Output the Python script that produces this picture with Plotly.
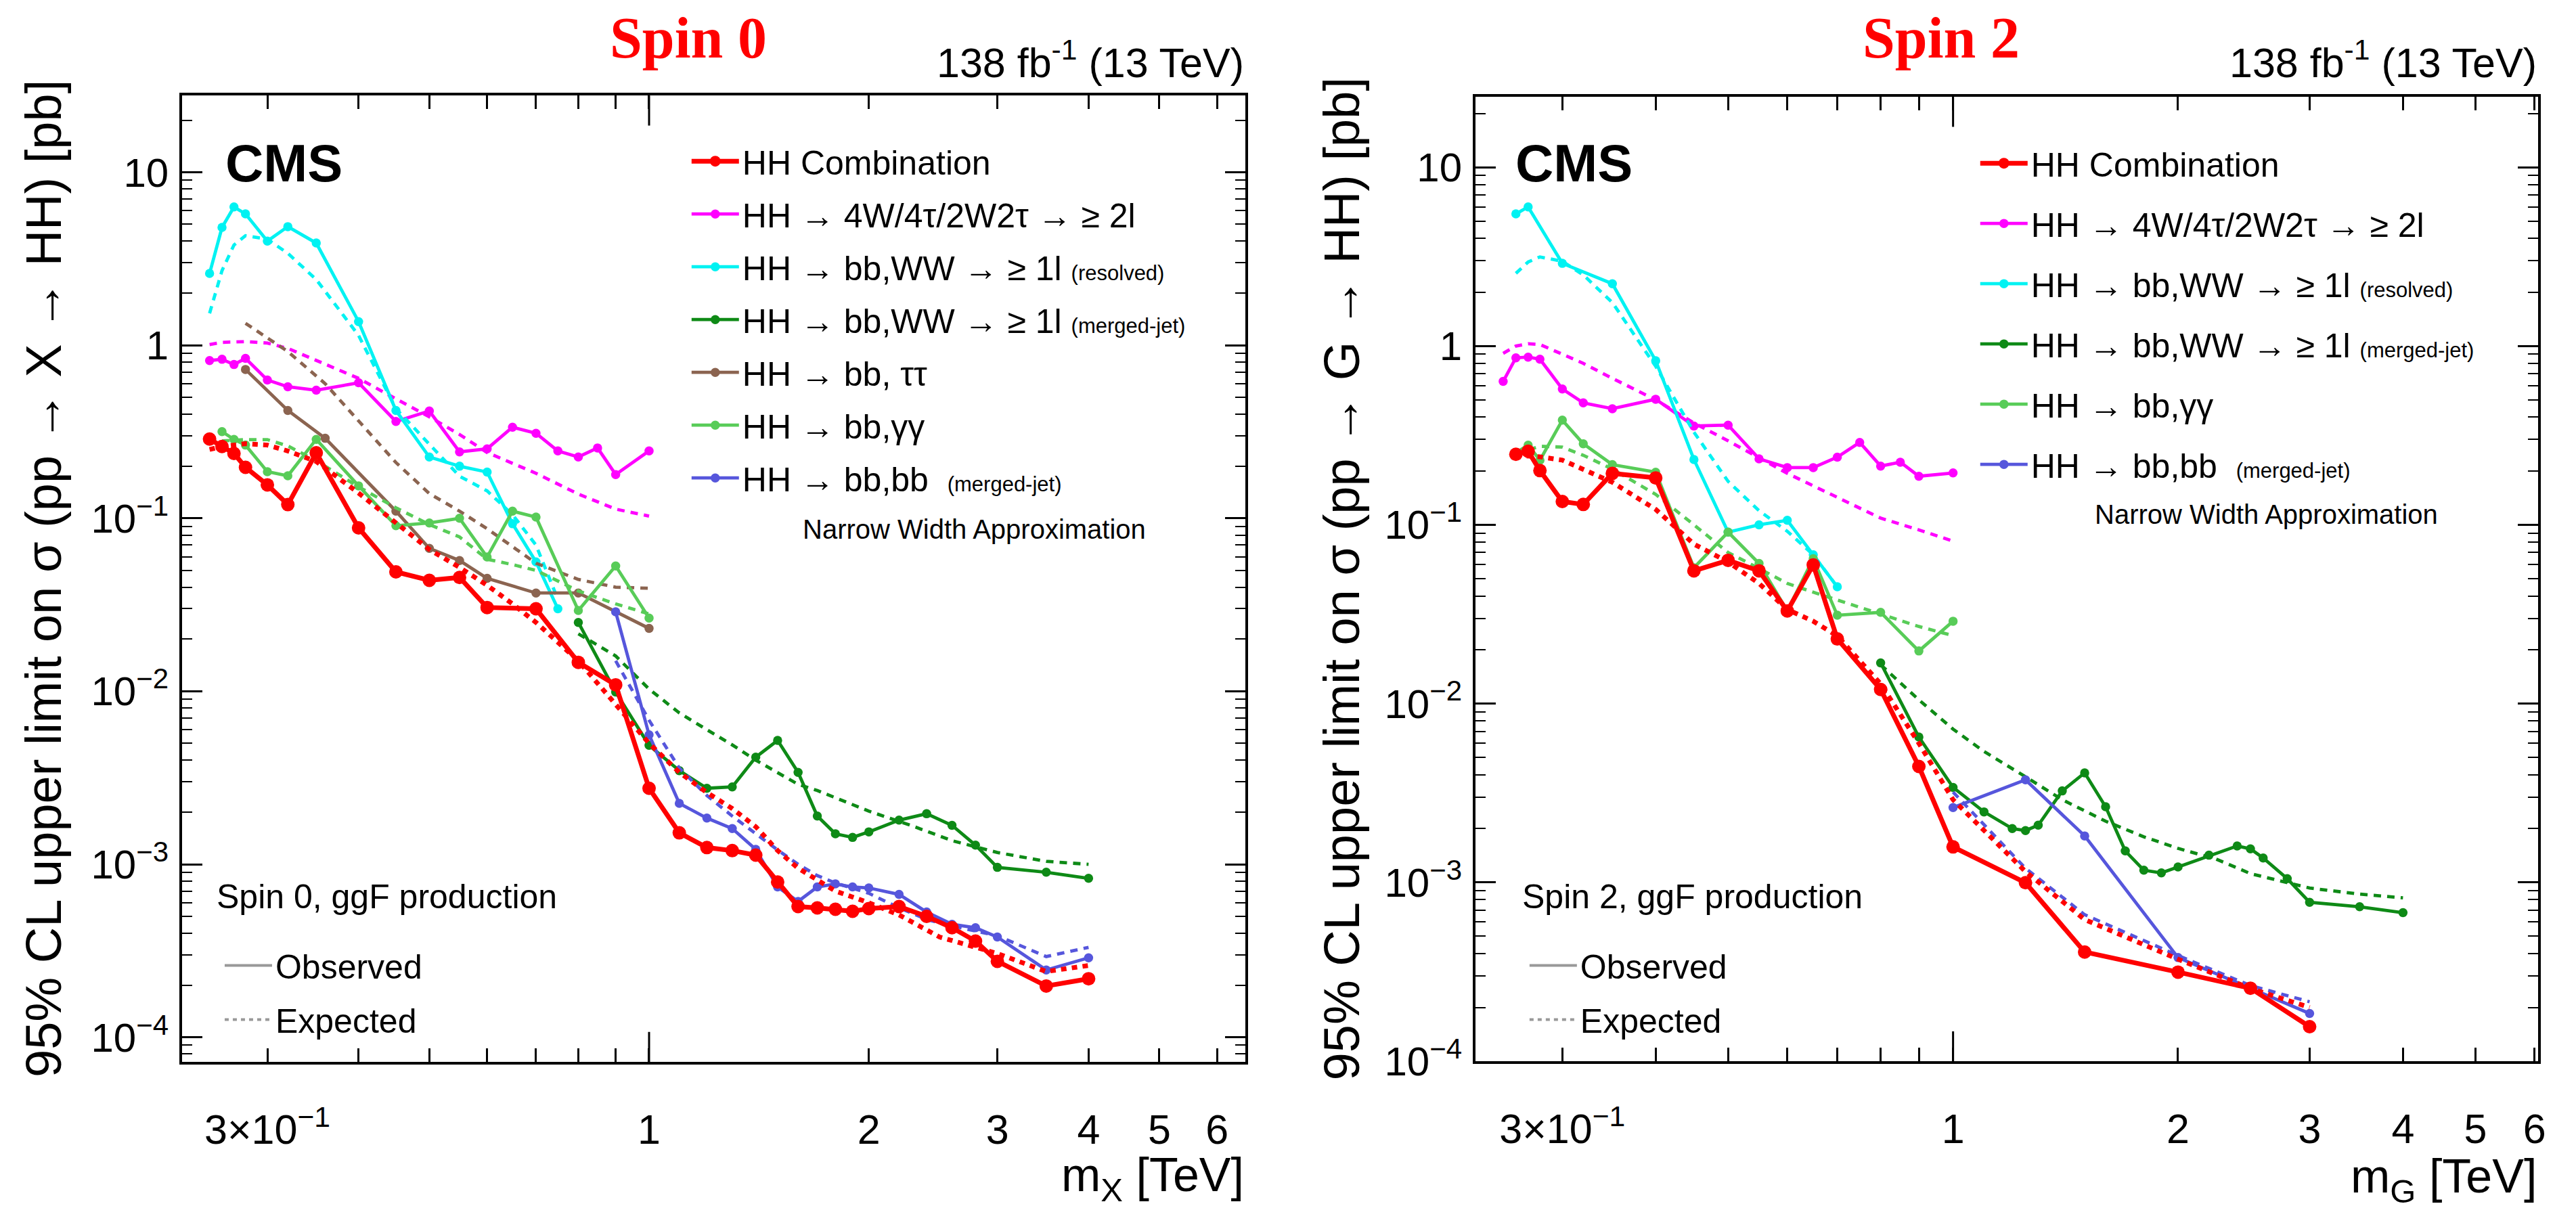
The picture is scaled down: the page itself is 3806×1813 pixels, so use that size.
import plotly.graph_objects as go

W, H = 3806, 1813
FONT = "Liberation Sans, Arial, Helvetica, sans-serif"

# ---------------- Spin 0 (left) ----------------
s0_comb_obs_m = [0.25, 0.26, 0.27, 0.28, 0.30, 0.32, 0.35, 0.40, 0.45, 0.50, 0.55, 0.60, 0.70, 0.80, 0.90, 1.0, 1.1, 1.2, 1.3, 1.4, 1.5, 1.6, 1.7, 1.8, 1.9, 2.0, 2.2, 2.4, 2.6, 2.8, 3.0, 3.5, 4.0]
s0_comb_obs = [0.287, 0.26, 0.237, 0.197, 0.156, 0.12, 0.239, 0.088, 0.049, 0.0438, 0.0455, 0.0305, 0.030, 0.0147, 0.0109, 0.00275, 0.00152, 0.00125, 0.0012, 0.00113, 7.9e-4, 5.7e-4, 5.6e-4, 5.5e-4, 5.35e-4, 5.55e-4, 5.7e-4, 5.0e-4, 4.3e-4, 3.6e-4, 2.75e-4, 1.98e-4, 2.18e-4]
s0_comb_exp_m = [0.25, 0.26, 0.28, 0.30, 0.32, 0.35, 0.40, 0.45, 0.50, 0.55, 0.60, 0.65, 0.70, 0.80, 0.90, 1.0, 1.1, 1.2, 1.3, 1.4, 1.5, 1.6, 1.8, 2.0, 2.2, 2.5, 3.0, 3.5, 4.0]
s0_comb_exp = [0.25, 0.26, 0.27, 0.265, 0.245, 0.213, 0.14, 0.095, 0.066, 0.052, 0.041, 0.032, 0.025, 0.015, 0.0085, 0.005, 0.0034, 0.0026, 0.0021, 0.00165, 0.0012, 9.5e-4, 7.0e-4, 6.0e-4, 5.1e-4, 3.8e-4, 3.05e-4, 2.4e-4, 2.6e-4]

s0_ml_obs_m = [0.25, 0.26, 0.27, 0.28, 0.30, 0.32, 0.35, 0.40, 0.45, 0.50, 0.55, 0.60, 0.65, 0.70, 0.75, 0.80, 0.85, 0.90, 1.0]
s0_ml_obs = [0.816, 0.83, 0.774, 0.84, 0.63, 0.576, 0.55, 0.607, 0.363, 0.417, 0.242, 0.252, 0.336, 0.31, 0.245, 0.226, 0.255, 0.179, 0.245]
s0_ml_exp_m = [0.25, 0.26, 0.28, 0.30, 0.32, 0.35, 0.40, 0.45, 0.50, 0.55, 0.60, 0.70, 0.80, 0.90, 1.0]
s0_ml_exp = [1.01, 1.04, 1.05, 1.03, 0.96, 0.82, 0.644, 0.49, 0.386, 0.305, 0.24, 0.182, 0.138, 0.113, 0.103]

s0_res_obs_m = [0.25, 0.26, 0.27, 0.28, 0.30, 0.32, 0.35, 0.40, 0.45, 0.50, 0.55, 0.60, 0.65, 0.70, 0.75]
s0_res_obs = [2.6, 4.8, 6.3, 5.75, 4.0, 4.85, 3.9, 1.37, 0.42, 0.226, 0.20, 0.185, 0.093, 0.056, 0.030]
s0_res_exp_m = [0.25, 0.26, 0.27, 0.28, 0.30, 0.32, 0.35, 0.40, 0.45, 0.50, 0.55, 0.60, 0.65, 0.70, 0.75]
s0_res_exp = [1.53, 2.7, 3.8, 4.3, 4.1, 3.4, 2.4, 1.14, 0.43, 0.27, 0.175, 0.144, 0.105, 0.07, 0.034]

s0_mj_obs_m = [0.8, 0.9, 1.0, 1.1, 1.2, 1.3, 1.4, 1.5, 1.6, 1.7, 1.8, 1.9, 2.0, 2.2, 2.4, 2.6, 2.8, 3.0, 3.5, 4.0]
s0_mj_obs = [0.025, 0.0099, 0.00487, 0.00348, 0.00275, 0.0028, 0.00416, 0.0052, 0.0034, 0.0019, 0.0015, 0.00143, 0.00154, 0.0018, 0.00196, 0.00168, 0.00129, 9.6e-4, 9.0e-4, 8.3e-4]
s0_mj_exp_m = [0.8, 0.9, 1.0, 1.1, 1.2, 1.3, 1.4, 1.5, 1.6, 1.7, 2.0, 2.3, 2.6, 3.0, 3.5, 4.0]
s0_mj_exp = [0.0215, 0.016, 0.0103, 0.0075, 0.006, 0.0049, 0.004, 0.0034, 0.0029, 0.00267, 0.00203, 0.00166, 0.00137, 0.00117, 0.00104, 0.001]

s0_tt_obs_m = [0.28, 0.32, 0.36, 0.45, 0.50, 0.55, 0.60, 0.70, 0.80, 1.0]
s0_tt_obs = [0.725, 0.42, 0.29, 0.11, 0.067, 0.057, 0.045, 0.037, 0.037, 0.0231]
s0_tt_exp_m = [0.28, 0.32, 0.36, 0.45, 0.50, 0.55, 0.60, 0.70, 0.80, 0.90, 1.0]
s0_tt_exp = [1.34, 0.92, 0.6, 0.21, 0.139, 0.11, 0.087, 0.055, 0.0443, 0.040, 0.0394]

s0_gg_obs_m = [0.26, 0.27, 0.28, 0.30, 0.32, 0.35, 0.40, 0.45, 0.50, 0.55, 0.60, 0.65, 0.70, 0.80, 0.90, 1.0]
s0_gg_obs = [0.317, 0.286, 0.265, 0.186, 0.176, 0.286, 0.154, 0.0906, 0.094, 0.10, 0.0597, 0.11, 0.1016, 0.0293, 0.053, 0.0265]
s0_gg_exp_m = [0.26, 0.28, 0.30, 0.32, 0.35, 0.40, 0.45, 0.50, 0.55, 0.60, 0.65, 0.70, 0.80, 0.90, 1.0]
s0_gg_exp = [0.28, 0.285, 0.285, 0.262, 0.215, 0.152, 0.115, 0.092, 0.078, 0.058, 0.054, 0.05, 0.038, 0.032, 0.028]

s0_bb_obs_m = [0.9, 1.0, 1.1, 1.2, 1.3, 1.4, 1.5, 1.6, 1.7, 1.8, 1.9, 2.0, 2.2, 2.4, 2.6, 2.8, 3.0, 3.5, 4.0]
s0_bb_obs = [0.0288, 0.0056, 0.00225, 0.00185, 0.00161, 0.00122, 7.4e-4, 6.1e-4, 7.4e-4, 7.7e-4, 7.4e-4, 7.3e-4, 6.7e-4, 5.3e-4, 4.5e-4, 4.3e-4, 3.8e-4, 2.45e-4, 2.88e-4]
s0_bb_exp_m = [0.9, 1.0, 1.1, 1.2, 1.3, 1.4, 1.5, 1.6, 1.7, 1.8, 2.0, 2.2, 2.4, 2.6, 2.8, 3.0, 3.5, 4.0]
s0_bb_exp = [0.015, 0.0068, 0.0036, 0.0025, 0.0019, 0.0015, 0.00121, 0.001, 8.6e-4, 7.8e-4, 6.8e-4, 5.6e-4, 4.8e-4, 4.4e-4, 4.1e-4, 3.86e-4, 2.93e-4, 3.31e-4]

# ---------------- Spin 2 (right) ----------------
s2_comb_obs_m = [0.26, 0.27, 0.28, 0.30, 0.32, 0.35, 0.40, 0.45, 0.50, 0.55, 0.60, 0.65, 0.70, 0.80, 0.90, 1.0, 1.25, 1.5, 2.0, 2.5, 3.0]
s2_comb_obs = [0.248, 0.258, 0.201, 0.135, 0.13, 0.194, 0.183, 0.0553, 0.0633, 0.0553, 0.033, 0.0597, 0.023, 0.012, 0.00445, 0.00158, 9.96e-4, 4.08e-4, 3.15e-4, 2.56e-4, 1.56e-4]
s2_comb_exp_m = [0.26, 0.28, 0.30, 0.32, 0.35, 0.40, 0.45, 0.50, 0.55, 0.60, 0.65, 0.70, 0.80, 0.90, 1.0, 1.25, 1.5, 2.0, 2.5, 3.0]
s2_comb_exp = [0.245, 0.24, 0.23, 0.205, 0.173, 0.122, 0.078, 0.062, 0.047, 0.0336, 0.0289, 0.0239, 0.0129, 0.006, 0.0029, 0.00115, 6.2e-4, 3.72e-4, 2.55e-4, 2.0e-4]

s2_ml_obs_m = [0.25, 0.26, 0.27, 0.28, 0.30, 0.32, 0.35, 0.40, 0.45, 0.50, 0.55, 0.60, 0.65, 0.70, 0.75, 0.80, 0.85, 0.90, 1.0]
s2_ml_obs = [0.634, 0.859, 0.867, 0.844, 0.575, 0.481, 0.446, 0.504, 0.357, 0.361, 0.234, 0.209, 0.209, 0.239, 0.289, 0.213, 0.224, 0.187, 0.195]
s2_ml_exp_m = [0.25, 0.26, 0.27, 0.28, 0.30, 0.32, 0.35, 0.40, 0.45, 0.50, 0.60, 0.70, 0.80, 0.90, 1.0]
s2_ml_exp = [0.91, 1.0, 1.03, 1.02, 0.9, 0.8, 0.66, 0.5, 0.371, 0.295, 0.194, 0.143, 0.109, 0.0937, 0.081]

s2_res_obs_m = [0.26, 0.27, 0.30, 0.35, 0.40, 0.45, 0.50, 0.55, 0.60, 0.65, 0.70]
s2_res_obs = [5.48, 6.0, 2.9, 2.23, 0.828, 0.232, 0.091, 0.100, 0.106, 0.068, 0.045]
s2_res_exp_m = [0.26, 0.27, 0.28, 0.30, 0.32, 0.35, 0.40, 0.45, 0.50, 0.55, 0.60, 0.65, 0.70]
s2_res_exp = [2.55, 2.95, 3.15, 2.98, 2.5, 1.75, 0.77, 0.33, 0.175, 0.12, 0.092, 0.068, 0.045]

s2_mj_obs_m = [0.8, 0.9, 1.0, 1.1, 1.2, 1.25, 1.3, 1.4, 1.5, 1.6, 1.7, 1.8, 1.9, 2.0, 2.2, 2.4, 2.5, 2.6, 2.8, 3.0, 3.5, 4.0]
s2_mj_obs = [0.0169, 0.0065, 0.0034, 0.00248, 0.002, 0.00195, 0.00209, 0.00325, 0.0041, 0.00265, 0.0015, 0.00117, 0.00113, 0.00122, 0.00142, 0.0016, 0.00154, 0.00137, 0.00105, 7.74e-4, 7.31e-4, 6.77e-4]
s2_mj_exp_m = [0.8, 0.9, 1.0, 1.1, 1.25, 1.4, 1.6, 1.8, 2.0, 2.25, 2.5, 3.0, 3.5, 4.0]
s2_mj_exp = [0.0165, 0.0105, 0.0072, 0.0054, 0.0039, 0.0029, 0.0022, 0.0018, 0.00155, 0.00135, 0.00112, 9.3e-4, 8.6e-4, 8.2e-4]

s2_gg_obs_m = [0.26, 0.27, 0.28, 0.30, 0.32, 0.35, 0.40, 0.45, 0.50, 0.55, 0.60, 0.65, 0.70, 0.80, 0.90, 1.0]
s2_gg_obs = [0.253, 0.279, 0.23, 0.385, 0.284, 0.217, 0.197, 0.0575, 0.091, 0.0608, 0.033, 0.0646, 0.0312, 0.0324, 0.0197, 0.0289]
s2_gg_exp_m = [0.26, 0.28, 0.30, 0.32, 0.35, 0.40, 0.45, 0.50, 0.55, 0.60, 0.65, 0.70, 0.80, 0.90, 1.0]
s2_gg_exp = [0.25, 0.275, 0.272, 0.245, 0.205, 0.148, 0.1, 0.07, 0.057, 0.047, 0.042, 0.038, 0.032, 0.027, 0.024]

s2_bb_obs_m = [1.0, 1.25, 1.5, 2.0, 2.5, 3.0]
s2_bb_obs = [0.00262, 0.00375, 0.00182, 3.8e-4, 2.56e-4, 1.85e-4]
s2_bb_exp_m = [1.0, 1.25, 1.5, 2.0, 2.5, 3.0]
s2_bb_exp = [0.0032, 0.0012, 6.6e-4, 3.9e-4, 2.65e-4, 2.15e-4]

# ---------------- tick labels ----------------
x_tickvals = [0.3, 1, 2, 3, 4, 5, 6]
x_ticktext = ["3×10<sup>−1</sup>", "1", "2", "3", "4", "5", "6"]
x_minorvals = [0.4, 0.5, 0.6, 0.7, 0.8, 0.9]
y_tickvals = [1e-4, 1e-3, 1e-2, 1e-1, 1, 10]
y_ticktext = ["10<sup>−4</sup>", "10<sup>−3</sup>", "10<sup>−2</sup>", "10<sup>−1</sup>", "1", "10"]
y_minorvals = [k * 10.0 ** e for e in range(-5, 2) for k in range(2, 10)]

# ---------------- labels ----------------
SMALL = '<span style="font-size:31px">%s</span>'
lab_comb = "HH Combination"
lab_ml = "HH → 4W/4τ/2W2τ → ≥ 2l"
lab_res = "HH → bb,WW → ≥ 1l " + SMALL % "(resolved)"
lab_mj = "HH → bb,WW → ≥ 1l " + SMALL % "(merged-jet)"
lab_tt = "HH → bb, ττ"
lab_gg = "HH → bb,γγ"
lab_bb = "HH → bb,bb  " + SMALL % "(merged-jet)"

C_RED = "#ff0000"
C_MAG = "#ff00ff"
C_CYAN = "#00f2f2"
C_DGREEN = "#0e8a16"
C_BROWN = "#8b6450"
C_LGREEN = "#58cc58"
C_BLUE = "#5656dc"

fig = go.Figure()


def add_series(mo, vo, me, ve, color, name, rank, xa, ya, leg, big=False):
    lw = 7 if big else 4.8
    ms = 20 if big else 13.5
    dash = "8px,8px" if big else "11px,9px"
    fig.add_trace(go.Scatter(x=me, y=ve, mode="lines", xaxis=xa, yaxis=ya,
                             line=dict(color=color, width=lw, dash=dash),
                             showlegend=False, hoverinfo="skip"))
    fig.add_trace(go.Scatter(x=mo, y=vo, mode="lines+markers", xaxis=xa, yaxis=ya,
                             line=dict(color=color, width=lw),
                             marker=dict(color=color, size=ms, symbol="circle"),
                             name=name, legend=leg, legendrank=rank,
                             legendgroup=leg + name))


# left panel
add_series(s0_ml_obs_m, s0_ml_obs, s0_ml_exp_m, s0_ml_exp, C_MAG, lab_ml, 2, "x", "y", "legend")
add_series(s0_res_obs_m, s0_res_obs, s0_res_exp_m, s0_res_exp, C_CYAN, lab_res, 3, "x", "y", "legend")
add_series(s0_tt_obs_m, s0_tt_obs, s0_tt_exp_m, s0_tt_exp, C_BROWN, lab_tt, 5, "x", "y", "legend")
add_series(s0_gg_obs_m, s0_gg_obs, s0_gg_exp_m, s0_gg_exp, C_LGREEN, lab_gg, 6, "x", "y", "legend")
add_series(s0_mj_obs_m, s0_mj_obs, s0_mj_exp_m, s0_mj_exp, C_DGREEN, lab_mj, 4, "x", "y", "legend")
add_series(s0_bb_obs_m, s0_bb_obs, s0_bb_exp_m, s0_bb_exp, C_BLUE, lab_bb, 7, "x", "y", "legend")
add_series(s0_comb_obs_m, s0_comb_obs, s0_comb_exp_m, s0_comb_exp, C_RED, lab_comb, 1, "x", "y", "legend", big=True)

# right panel
add_series(s2_ml_obs_m, s2_ml_obs, s2_ml_exp_m, s2_ml_exp, C_MAG, lab_ml, 2, "x2", "y2", "legend2")
add_series(s2_res_obs_m, s2_res_obs, s2_res_exp_m, s2_res_exp, C_CYAN, lab_res, 3, "x2", "y2", "legend2")
add_series(s2_gg_obs_m, s2_gg_obs, s2_gg_exp_m, s2_gg_exp, C_LGREEN, lab_gg, 5, "x2", "y2", "legend2")
add_series(s2_mj_obs_m, s2_mj_obs, s2_mj_exp_m, s2_mj_exp, C_DGREEN, lab_mj, 4, "x2", "y2", "legend2")
add_series(s2_bb_obs_m, s2_bb_obs, s2_bb_exp_m, s2_bb_exp, C_BLUE, lab_bb, 6, "x2", "y2", "legend2")
add_series(s2_comb_obs_m, s2_comb_obs, s2_comb_exp_m, s2_comb_exp, C_RED, lab_comb, 1, "x2", "y2", "legend2", big=True)

# observed / expected key
for leg, xa, ya in (("legend3", "x", "y"), ("legend4", "x2", "y2")):
    fig.add_trace(go.Scatter(x=[None], y=[None], mode="lines", xaxis=xa, yaxis=ya,
                             line=dict(color="#999999", width=4), name="Observed",
                             legend=leg, legendgroup=leg + "o", legendrank=1))
    fig.add_trace(go.Scatter(x=[None], y=[None], mode="lines", xaxis=xa, yaxis=ya,
                             line=dict(color="#999999", width=4, dash="6px,6px"), name="Expected",
                             legend=leg, legendgroup=leg + "e", legendrank=2))


# ---------------- axes ----------------
def xaxis(dom, rng, anchor):
    return dict(type="log", domain=dom, range=rng, anchor=anchor, showline=True, linewidth=4,
                linecolor="black", mirror="allticks", ticks="inside", ticklen=20, tickwidth=3,
                tickcolor="black", tickmode="array", tickvals=x_tickvals, ticktext=x_ticktext,
                minor=dict(ticks="inside", ticklen=20, tickwidth=3, tickcolor="black",
                           tickmode="array", tickvals=x_minorvals, showgrid=False),
                tickfont=dict(size=61, family=FONT, color="black"), ticklabelstandoff=44,
                showgrid=False, zeroline=False)


def yaxis(dom, rng, anchor):
    return dict(type="log", domain=dom, range=rng, anchor=anchor, showline=True, linewidth=4,
                linecolor="black", mirror="allticks", ticks="inside", ticklen=30, tickwidth=3,
                tickcolor="black", tickmode="array", tickvals=y_tickvals, ticktext=y_ticktext,
                minor=dict(ticks="inside", ticklen=15, tickwidth=2, tickcolor="black",
                           tickmode="array", tickvals=y_minorvals, showgrid=False),
                tickfont=dict(size=60, family=FONT, color="black"), ticklabelstandoff=4,
                showgrid=False, zeroline=False)


L_X0, L_X1, L_Y0, L_Y1 = 270, 1846, 144, 1599
R_X0, R_X1, R_Y0, R_Y1 = 2187, 3762, 146, 1598

layout = dict(
    width=W, height=H, margin=dict(l=0, r=0, t=0, b=0),
    paper_bgcolor="white", plot_bgcolor="white",
    font=dict(family=FONT, color="black"),
    xaxis=xaxis([L_X0 / W, L_X1 / W], [-0.6396, 0.817], "y"),
    yaxis=yaxis([1 - L_Y1 / H, 1 - L_Y0 / H], [-4.142, 1.443], "x"),
    xaxis2=xaxis([R_X0 / W, R_X1 / W], [-0.639, 0.783], "y2"),
    yaxis2=yaxis([1 - R_Y1 / H, 1 - R_Y0 / H], [-4.0, 1.393], "x2"),
)

legcommon = dict(xanchor="left", yanchor="top", bgcolor="rgba(0,0,0,0)", borderwidth=0,
                 font=dict(size=50, family=FONT, color="black"), traceorder="grouped",
                 itemsizing="trace", itemwidth=70)
layout["legend"] = dict(legcommon, x=1020 / W, y=1 - 203 / H, tracegroupgap=10)
layout["legend2"] = dict(legcommon, x=2930 / W, y=1 - 206 / H, tracegroupgap=21)
layout["legend3"] = dict(legcommon, x=328 / W, y=1 - 1414 / H, tracegroupgap=12)
layout["legend4"] = dict(legcommon, x=2262 / W, y=1 - 1414 / H, tracegroupgap=12)

fig.update_layout(**layout)

# long major tick at 1 TeV (bottom and top)
for xr, yr in (("x", "y domain"), ("x2", "y2 domain")):
    fig.add_shape(type="line", xref=xr, yref=yr, x0=1, x1=1, y0=0, y1=0.031,
                  line=dict(color="black", width=3))
    fig.add_shape(type="line", xref=xr, yref=yr, x0=1, x1=1, y0=1, y1=0.969,
                  line=dict(color="black", width=3))


def ann(text, x, y, size, xanchor="center", yanchor="middle", color="black", family=FONT, angle=0):
    fig.add_annotation(text=text, x=x / W, y=1 - y / H, xref="paper", yref="paper",
                       showarrow=False, xanchor=xanchor, yanchor=yanchor, textangle=angle,
                       font=dict(size=size, color=color, family=family))


SERIF = "Liberation Serif, Times New Roman, serif"
ann("<b>Spin 0</b>", 1020, 57, 86, color="#ff0000", family=SERIF)
ann("<b>Spin 2</b>", 2877, 57, 86, color="#ff0000", family=SERIF)
ann("138 fb<sup>-1</sup> (13 TeV)", L_X1, 90, 61, xanchor="right")
ann("138 fb<sup>-1</sup> (13 TeV)", R_X1, 90, 61, xanchor="right")
ann("<b>CMS</b>", 332, 246, 78, xanchor="left")
ann("<b>CMS</b>", 2244, 246, 78, xanchor="left")
ann("Narrow Width Approximation", 1188, 797, 40, xanchor="left")
ann("Narrow Width Approximation", 3103, 775, 40, xanchor="left")
ann("Spin 0, ggF production", 319, 1350, 50, xanchor="left")
ann("Spin 2, ggF production", 2254, 1350, 50, xanchor="left")
ann("95% CL upper limit on σ (pp → X → HH) [pb]", 64, (L_Y0 + L_Y1) / 2, 74, angle=-90)
ann("95% CL upper limit on σ (pp → G → HH) [pb]", 1989, (R_Y0 + R_Y1) / 2, 74, angle=-90)
ann("m<sub>X</sub> [TeV]", L_X1, 1774, 70, xanchor="right")
ann("m<sub>G</sub> [TeV]", R_X1, 1776, 70, xanchor="right")

fig.write_html("out.html")
